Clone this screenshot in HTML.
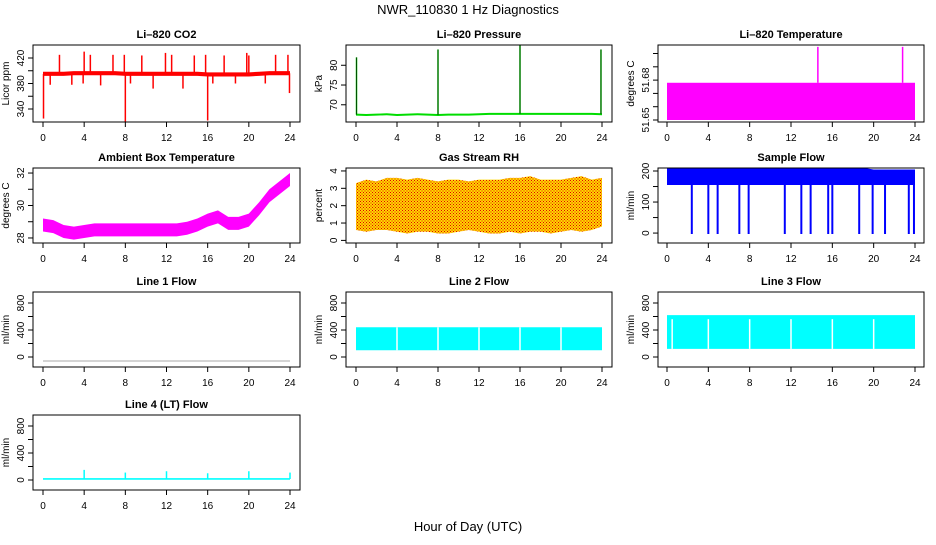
<!DOCTYPE html>
<html><head><meta charset="utf-8"><style>
body{margin:0;background:#fff}
svg text{font-family:"Liberation Sans",sans-serif}
</style></head><body>
<svg id="c" width="936" height="540" xmlns="http://www.w3.org/2000/svg">
<defs><pattern id="rhdots" width="3" height="3" patternUnits="userSpaceOnUse"><rect width="3" height="3" fill="#ffd700"/><rect width="1" height="1" fill="#e00000"/><rect x="1.5" y="1.5" width="1" height="1" fill="#e00000"/></pattern></defs>
<text x="468" y="14" text-anchor="middle" font-size="13">NWR_110830  1 Hz Diagnostics</text>
<text x="468" y="531" text-anchor="middle" font-size="13">Hour of Day (UTC)</text>
</svg>
<script>
// ---- data ----
const hours = [0,1,2,3,4,5,6,7,8,9,10,11,12,13,14,15,16,17,18,19,20,21,22,23,24];
const xTicks = [0,4,8,12,16,20,24];
const co2Base = [395,395,395,396,396,396,396,396,395,395,395,395,395,395,395,395,394,394,394,394,394,395,396,396,396];
const co2SpikeHours = [0.05,0.7,1.6,2.8,3.9,4.0,4.6,5.6,6.8,7.9,8.0,8.5,9.6,10.7,11.9,12.5,13.6,14.7,15.8,16.0,16.5,17.6,18.7,19.8,20.0,21.6,22.6,23.8,23.95];
const co2SpikeVals  = [325,378,425,378,380,430,425,377,425,425,320,380,424,372,428,425,372,424,425,322,380,424,380,428,424,380,425,425,365];
const ambTemp = [28.8,28.7,28.4,28.3,28.4,28.5,28.5,28.5,28.5,28.5,28.5,28.5,28.5,28.5,28.6,28.8,29.1,29.3,28.9,28.9,29.1,29.8,30.6,31.1,31.6];
const presBase = [67.5,67.4,67.5,67.6,67.4,67.5,67.6,67.5,67.4,67.5,67.5,67.5,67.6,67.7,67.7,67.7,67.7,67.7,67.7,67.7,67.7,67.7,67.7,67.7,67.6];
const presSpikeHours = [0.05,8.0,16.0,23.9];
const presSpikeVals = [82,84,85,84];
const licorTempLow = 51.65;
const licorTempHigh = 51.678;
const licorSpikeHours = [14.6,22.8];
const licorSpikeVals = [51.705,51.705];
const rhMin = [0.6,0.5,0.6,0.6,0.5,0.4,0.5,0.5,0.4,0.4,0.5,0.6,0.5,0.4,0.4,0.5,0.4,0.5,0.5,0.4,0.5,0.6,0.5,0.6,0.8];
const rhMax = [3.3,3.5,3.4,3.6,3.6,3.5,3.6,3.5,3.4,3.5,3.5,3.4,3.5,3.5,3.5,3.6,3.6,3.7,3.5,3.5,3.5,3.6,3.7,3.5,3.6];
const flowMin = [155,155,155,155,155,155,155,155,155,155,155,155,155,155,155,155,155,155,155,155,155,155,155,155,155];
const flowMax = [210,210,210,210,210,210,210,210,210,210,210,210,210,210,210,210,210,210,210,210,205,205,205,205,205];
const flowDipHours = [2.4,4.0,4.9,7.0,7.9,11.4,13.0,13.9,15.6,16.0,18.6,19.9,21.1,23.4,23.9];
const line1Val = -60;
const line2Min = 100, line2Max = 440;
const line3Min = 120, line3Max = 620;
const line4Base = 15;
const line4SpikeHours = [4,8,12,16,20,24];
const line4SpikeVals = [150,110,130,100,130,110];
// ---- layout ----
const svg = document.getElementById('c');
const NS = 'http://www.w3.org/2000/svg';
const cols = [{l:33,r:300,x0:43,x24:290},{l:346,r:612,x0:356,x24:602},{l:658,r:924,x0:667,x24:915}];
const rows = [{t:45,b:122},{t:168,b:243},{t:292,b:367},{t:415,b:490}];
function mk(tag, attrs, parent){const e=document.createElementNS(NS,tag);for(const k in attrs)e.setAttribute(k,attrs[k]);(parent||svg).appendChild(e);return e;}
function panel(name,title,ylab,c,r,ymin,ymax,yticks,ylabels){
  const C=cols[c],R=rows[r];
  const g=mk('g',{});
  
  
  const X=h=>C.x0+(C.x24-C.x0)*h/24;
  const Y=v=>R.b-(v-ymin)/(ymax-ymin)*(R.b-R.t);
  const dg=mk('g',{},g);
  const t=mk('text',{x:(C.l+C.r)/2,y:R.t-7,'text-anchor':'middle','font-size':11,'font-weight':'bold'},g);t.textContent=title;
  
  
  mk('rect',{x:C.l,y:R.t,width:C.r-C.l,height:R.b-R.t,fill:'none',stroke:'#000','stroke-width':1},g);
  xTicks.forEach(h=>{mk('line',{x1:X(h),x2:X(h),y1:R.b,y2:R.b+5,stroke:'#000'},g);
    const tl=mk('text',{x:X(h),y:R.b+19,'text-anchor':'middle','font-size':10},g);tl.textContent=h;
    
    });
  yticks.forEach(v=>{const y=Y(v);if(y<R.t-1||y>R.b+1)return;mk('line',{x1:C.l,x2:C.l-5,y1:y,y2:y,stroke:'#000'},g);
    if(ylabels.includes(v)){const tl=mk('text',{x:0,y:0,'text-anchor':'middle','font-size':10,transform:`translate(${C.l-9},${y}) rotate(-90)`},g);tl.textContent=v;
    
    }});
  const yl=mk('text',{x:0,y:0,'text-anchor':'middle','font-size':10,transform:`translate(${C.l-24},${(R.t+R.b)/2}) rotate(-90)`},g);yl.textContent=ylab;
  
  
  return {X,Y,g:dg};
}
function band(p,mins,maxs,fill,name){
  let d='M'+hours.map((h,i)=>p.X(h)+','+p.Y(maxs[i])).join('L');
  for(let i=hours.length-1;i>=0;i--)d+='L'+p.X(hours[i])+','+p.Y(mins[i]);
  const e=mk('path',{d:d+'Z',fill:fill},p.g);
  
  
  return e;
}
function spikes(p,hs,from,vals,color,w,name){
  hs.forEach((h,i)=>{const f=Array.isArray(from)?from[i]:from;const e=mk('line',{x1:p.X(h),x2:p.X(h),y1:p.Y(f),y2:p.Y(vals[i]),stroke:color,'stroke-width':w},p.g);
  
  });
}
function interp(arr,h){const i=Math.min(Math.floor(h),23);const f=h-i;return arr[i]*(1-f)+arr[i+1]*f;}
// CO2
let p=panel('co2','Li\u2013820 CO2','Licor ppm',0,0,319.6,440.4,[340,360,380,400,420],[340,380,420]);
band(p,co2Base.map(v=>v-3),co2Base.map(v=>v+3.5),'#ff0000','co2-band');
spikes(p,co2SpikeHours,co2SpikeHours.map(h=>interp(co2Base,h)),co2SpikeVals,'#ff0000',1.5,'co2-spike');
// Pressure
p=panel('pressure','Li\u2013820 Pressure','kPa',1,0,65.64,85.13,[70,75,80],[70,75,80]);
band(p,presBase.map(v=>v-0.25),presBase.map(v=>v+0.25),'#00dd00','pressure-line');
spikes(p,presSpikeHours,presSpikeHours.map(h=>interp(presBase,h)),presSpikeVals,'#00cc00',1.5,'pressure-spike');
spikes(p,presSpikeHours,presSpikeHours.map(h=>interp(presBase,h)),presSpikeVals,'#000',0.6,'pressure-spike-dots');
// Li-820 temperature
p=panel('licor-temp','Li\u2013820 Temperature','degrees C',2,0,51.6485,51.7064,[51.65,51.66,51.67,51.68,51.69,51.7],[51.65,51.68]);
{const e=mk('rect',{x:p.X(0),y:p.Y(licorTempHigh),width:p.X(24)-p.X(0),height:p.Y(licorTempLow)-p.Y(licorTempHigh),fill:'#ff00ff'},p.g);

}
spikes(p,licorSpikeHours,licorTempHigh,licorSpikeVals,'#ff00ff',1.5,'licor-temp-spike');
// Ambient
p=panel('ambient-temp','Ambient Box Temperature','degrees C',0,1,27.69,32.31,[28,29,30,31,32],[28,30,32]);
band(p,ambTemp.map(v=>v-0.4),ambTemp.map(v=>v+0.4),'#ff00ff','ambient-temp-band');
// RH
p=panel('rh','Gas Stream RH','percent',1,1,-0.15,4.17,[0,1,2,3,4],[0,1,2,3,4]);
band(p,rhMin,rhMax,'url(#rhdots)','rh-band');
// Sample flow
p=panel('sample-flow','Sample Flow','ml/min',2,1,-32,209.7,[0,50,100,150,200],[0,100,200]);
band(p,flowMin,flowMax,'#0000ff','sample-flow-band');
spikes(p,flowDipHours,155,flowDipHours.map(()=>-3),'#0000ff',2,'sample-flow-dip');
// Line flows
const lt=[0,200,400,600,800],ll=[0,400,800];
p=panel('line1-flow','Line 1 Flow','ml/min',0,2,-148,963,lt,ll);
{const e=mk('line',{x1:p.X(0),x2:p.X(24),y1:p.Y(line1Val),y2:p.Y(line1Val),stroke:'#aaaaaa','stroke-width':1},p.g);

}
p=panel('line2-flow','Line 2 Flow','ml/min',1,2,-148,963,lt,ll);
band(p,hours.map(()=>line2Min),hours.map(()=>line2Max),'#00ffff','line2-flow-band');
spikes(p,[4,8,12,16,20],line2Min,[4,8,12,16,20].map(()=>line2Max),'#fff',1.5,'line2-gap');
p=panel('line3-flow','Line 3 Flow','ml/min',2,2,-148,963,lt,ll);
band(p,hours.map(()=>line3Min),hours.map(()=>line3Max),'#00ffff','line3-flow-band');
spikes(p,[0.5,4,8,12,16,20],line3Min,[0.5,4,8,12,16,20].map(()=>line3Max-60),'#fff',1.5,'line3-gap');
p=panel('line4-flow','Line 4 (LT) Flow','ml/min',0,3,-148,963,lt,ll);
band(p,hours.map(()=>line4Base-12),hours.map(()=>line4Base+12),'#00ffff','line4-flow-band');
spikes(p,line4SpikeHours,line4Base,line4SpikeVals,'#00ffff',1.5,'line4-spike');
</script>
</body></html>
